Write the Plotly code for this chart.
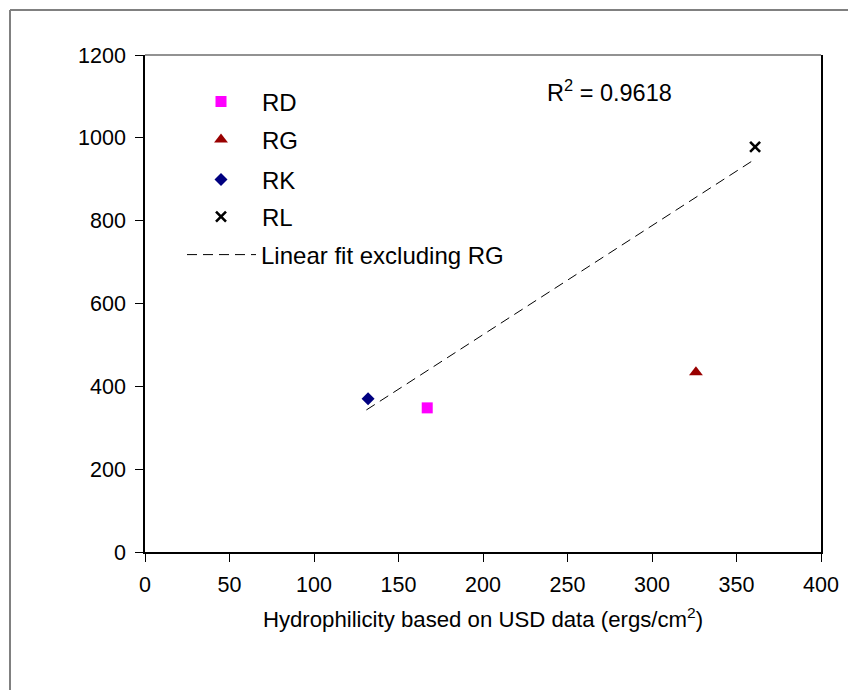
import plotly.graph_objects as go

# Data
series_names = ["RD", "RG", "RK", "RL"]
hydrophilicity = [167, 326, 132, 361]
y_values = [348, 434, 370, 978]

fit_x = [131, 360]
fit_y = [343, 946]
fit_name = "Linear fit excluding RG"
r2_text = "R<sup>2</sup> = 0.9618"
x_title = "Hydrophilicity based on USD data (ergs/cm<sup>2</sup>)"

x_ticks = [0, 50, 100, 150, 200, 250, 300, 350, 400]
y_ticks = [0, 200, 400, 600, 800, 1000, 1200]

FONT = "Liberation Sans, Arial, sans-serif"

styles = {
    "RD": dict(symbol="square", size=11, color="#FF00FF", line=dict(width=0)),
    "RG": dict(symbol="triangle-up", size=12, color="#990000", line=dict(width=0)),
    "RK": dict(symbol="diamond", size=10, color="#000080", line=dict(width=0)),
    "RL": dict(symbol="x-thin", size=10, color="#000000", line=dict(width=2.6, color="#000000")),
}

fig = go.Figure()
legend_ids = ["legend", "legend2", "legend3", "legend4"]
for i, name in enumerate(series_names):
    fig.add_trace(go.Scatter(
        x=[hydrophilicity[i]], y=[y_values[i]], mode="markers", name=name,
        marker=styles[name], legend=legend_ids[i], cliponaxis=False,
    ))

fig.add_trace(go.Scatter(
    x=fit_x, y=fit_y, mode="lines", name=fit_name,
    line=dict(color="#000000", width=1, dash="10px,6px"), legend="legend5",
))

# page body has an 8px margin; plot area on screen: x 145..821, y 55..552
OFF = 8
W, H = 856, 690
L, R, T, B = 145, 821, 55, 552
pw, ph = R - L, B - T

def px(x):
    return (x - L) / pw

def py(y):
    return (B - y) / ph

leg_common = dict(font=dict(family=FONT, size=24, color="#000000"), bgcolor="rgba(0,0,0,0)",
                  xanchor="left", yanchor="middle", borderwidth=0)
rows_y = [102, 140, 180, 217, 255]
layout_leg = {}
for i, lid in enumerate(legend_ids + ["legend5"]):
    d = dict(leg_common)
    d["y"] = py(rows_y[i])
    if lid == "legend5":
        d["x"] = px(182)
        d["itemwidth"] = 69
    else:
        d["x"] = px(180)
        d["itemwidth"] = 72
    layout_leg[lid] = d

fig.update_layout(
    width=W - OFF, height=H - OFF,
    margin=dict(l=L - OFF, r=W - R, t=T - OFF, b=H - B),
    paper_bgcolor="white", plot_bgcolor="white",
    font=dict(family=FONT, size=21, color="#000000"),
    showlegend=True,
    **layout_leg,
)

fig.update_xaxes(
    range=[0, 400], tickvals=x_ticks, showgrid=False, zeroline=False,
    showline=True, linecolor="#000000", linewidth=1.5,
    ticks="outside", ticklen=8, tickcolor="#000000", ticklabelstandoff=4,
    tickfont=dict(family=FONT, size=21.5, color="#000000"),
    title=dict(text=x_title, font=dict(family=FONT, size=22.2, color="#000000"), standoff=16),
)
fig.update_yaxes(
    range=[0, 1200], tickvals=y_ticks, showgrid=False, zeroline=False,
    showline=True, linecolor="#000000", linewidth=1.5, mirror=True,
    ticks="outside", ticklen=8, tickcolor="#000000", ticklabelstandoff=5,
    tickfont=dict(family=FONT, size=21.5, color="#000000"),
)

# gray top border of the plot area
fig.add_shape(type="line", xref="paper", yref="paper", x0=0, x1=1, y0=1, y1=1,
              line=dict(color="#6e6e6e", width=1.5))
# outer chart frame (left and top visible)
fig.add_shape(type="line", xref="paper", yref="paper", x0=px(10), x1=px(10), y0=py(700), y1=py(10),
              line=dict(color="#808080", width=2))
fig.add_shape(type="line", xref="paper", yref="paper", x0=px(10), x1=px(870), y0=py(10), y1=py(10),
              line=dict(color="#808080", width=2))

fig.add_annotation(x=275, y=1114, xref="x", yref="y", text=r2_text, showarrow=False,
                   font=dict(family=FONT, size=23.5, color="#000000"))

fig.write_html("out.html")
